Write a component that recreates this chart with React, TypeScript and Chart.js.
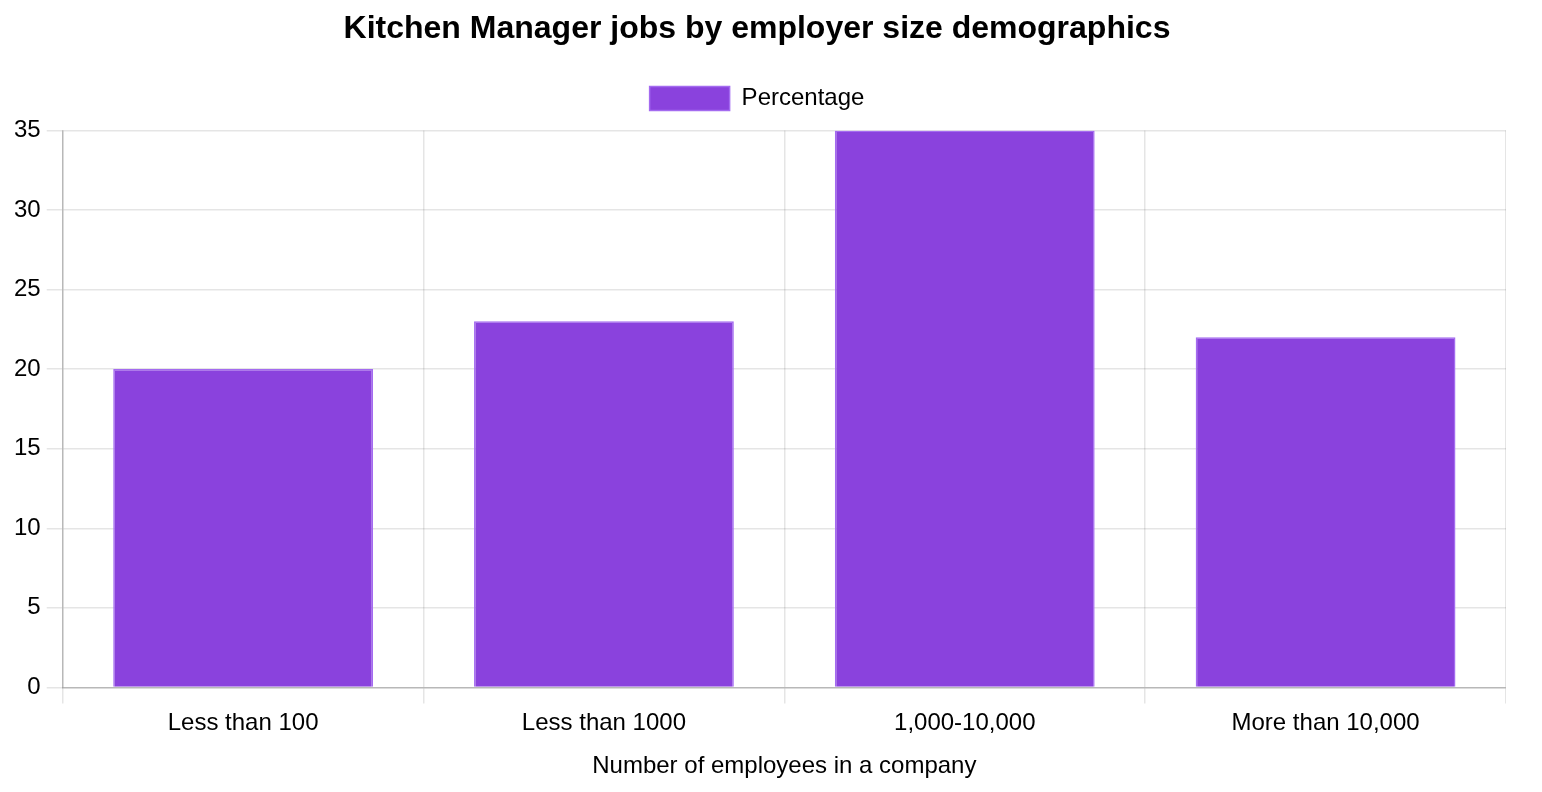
import React, { useEffect, useRef } from "react";
import { Chart, registerables } from "chart.js";

Chart.register(...registerables);

const categories = ["Less than 100", "Less than 1000", "1,000-10,000", "More than 10,000"];
const percentages = [20, 23, 35, 22];
const seriesLabel = "Percentage";
const chartTitle = "Kitchen Manager jobs by employer size demographics";
const xAxisTitle = "Number of employees in a company";

const FONT = "Helvetica, Arial, 'Liberation Sans', sans-serif";

const legendMargin = {
  id: "legendMargin",
  beforeInit(chart: any) {
    const legend = chart.legend;
    if (!legend) return;
    const orig = legend.fit;
    legend.fit = function () {
      orig.bind(legend)();
      this.height += 10;
    };
  },
};

export default function App() {
  const ref = useRef<HTMLCanvasElement | null>(null);
  useEffect(() => {
    if (!ref.current) return;
    const chart = new Chart(ref.current, {
      type: "bar",
      data: {
        labels: categories,
        datasets: [
          {
            label: seriesLabel,
            data: percentages,
            backgroundColor: "#8A42DD",
            borderColor: "#A46BF0",
            borderWidth: 1.5,
          },
        ],
      },
      plugins: [legendMargin],
      options: {
        animation: false,
        responsive: true,
        maintainAspectRatio: false,
        color: "#000",
        font: { family: FONT, size: 24 },
        plugins: {
          title: {
            display: true,
            text: chartTitle,
            color: "#000",
            font: { family: FONT, size: 32, weight: "bold" },
            padding: { top: 2, bottom: 18 },
          },
          legend: {
            labels: {
              color: "#000",
              font: { family: FONT, size: 24 },
              boxWidth: 80,
              boxHeight: 24,
              padding: 20,
            },
          },
          tooltip: { enabled: false },
        },
        scales: {
          x: {
            ticks: { color: "#000", font: { family: FONT, size: 24 }, padding: 6 },
            grid: { color: "rgba(0,0,0,0.1)", tickLength: 16, lineWidth: 1.5 },
            border: { color: "rgba(0,0,0,0.2)", width: 1.5 },
            title: {
              display: true,
              text: xAxisTitle,
              color: "#000",
              font: { family: FONT, size: 24 },
              padding: { top: 8, bottom: 8 },
            },
          },
          y: {
            min: 0,
            max: 35,
            ticks: { stepSize: 5, color: "#000", font: { family: FONT, size: 24 }, padding: 6 },
            grid: { color: "rgba(0,0,0,0.1)", tickLength: 16, lineWidth: 1.5 },
            border: { color: "rgba(0,0,0,0.2)", width: 1.5 },
          },
        },
      },
    });
    return () => chart.destroy();
  }, []);
  return (
    <div style={{ width: 1498, height: 781, position: "relative" }}>
      <canvas ref={ref} />
    </div>
  );
}
